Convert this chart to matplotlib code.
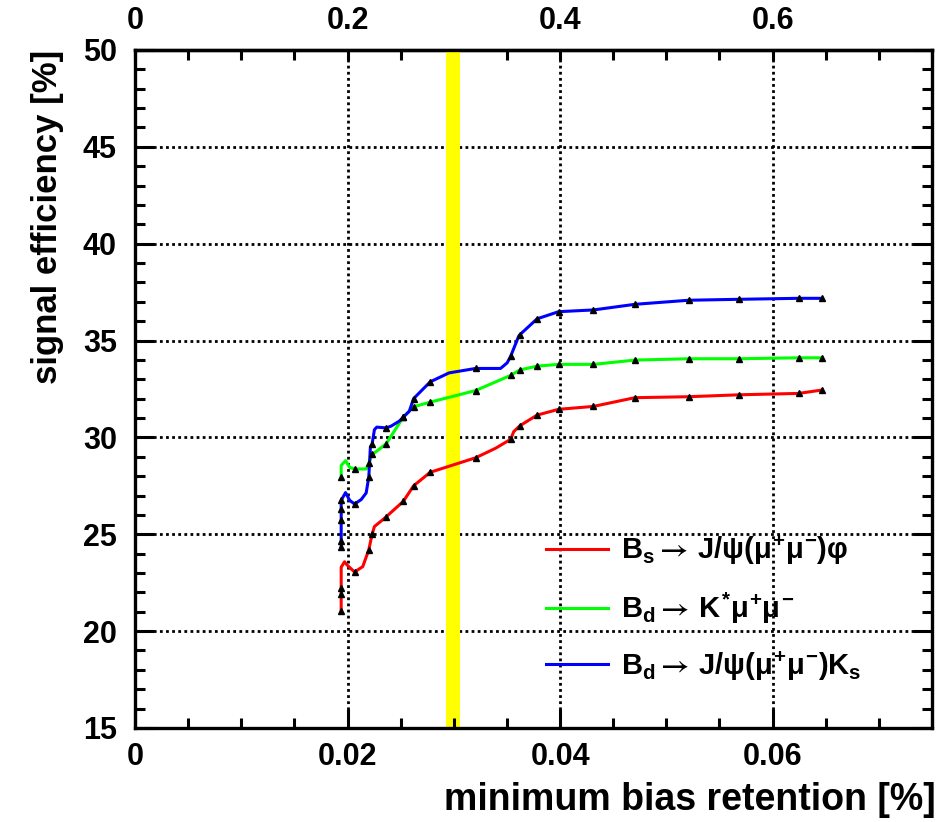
import matplotlib
matplotlib.use("Agg")
import matplotlib.pyplot as plt
from matplotlib.ticker import MultipleLocator, FixedLocator
from matplotlib.lines import Line2D

plt.rcParams['font.family'] = ['Liberation Sans', 'DejaVu Sans']
plt.rcParams['font.weight'] = 'bold'
plt.rcParams['mathtext.fontset'] = 'custom'
plt.rcParams['mathtext.rm'] = 'Liberation Sans:bold'
plt.rcParams['mathtext.it'] = 'Liberation Sans:bold'
plt.rcParams['mathtext.bf'] = 'Liberation Sans:bold'
plt.rcParams['mathtext.sf'] = 'STIXGeneral'

# ---------------- data ----------------
series_labels = [
    r'$B_{s}\mathsf{\rightarrow}\, J/\psi(\mu^{+}\mu^{-})\varphi$',
    r'$B_{d}\mathsf{\rightarrow}\, K^{*}\mu^{+}\mu^{-}$',
    r'$B_{d}\mathsf{\rightarrow}\, J/\psi(\mu^{+}\mu^{-})K_{s}$',
]
series_colors = ['#ff0000', '#00ff00', '#0000ff']

# measured points (markers)
red_x = [0.0194, 0.0194, 0.0194, 0.02066, 0.0220, 0.02231, 0.02363, 0.02525, 0.02621,
         0.02778, 0.03206, 0.03534, 0.03621, 0.03783, 0.03986, 0.04314, 0.04703, 0.0521,
         0.05688, 0.06244, 0.06469]
red_y = [21.05, 21.9, 22.25, 23.05, 24.2, 25.0, 25.9, 26.7, 27.5,
         28.2, 28.95, 29.9, 30.6, 31.15, 31.45, 31.6, 32.05, 32.1,
         32.2, 32.27, 32.45]

green_x = [0.0194, 0.02066, 0.0220, 0.02231, 0.02363, 0.02525, 0.02621, 0.02778, 0.03206,
           0.03534, 0.03621, 0.03783, 0.03986, 0.04314, 0.04703, 0.0521, 0.05688, 0.06244,
           0.06469]
green_y = [27.95, 28.37, 28.68, 29.15, 29.67, 31.05, 31.58, 31.82, 32.42,
           33.2, 33.48, 33.68, 33.77, 33.77, 33.99, 34.06, 34.06, 34.11,
           34.11]

blue_x = [0.0194, 0.0194, 0.0194, 0.0194, 0.0194, 0.02066, 0.0220, 0.02231, 0.02363,
          0.02525, 0.02621, 0.02778, 0.03206, 0.03534, 0.03621, 0.03783, 0.03986, 0.04314,
          0.04703, 0.0521, 0.05688, 0.06244, 0.06469]
blue_y = [24.33, 24.67, 25.75, 26.3, 26.75, 26.56, 27.96, 29.66, 30.49,
          31.05, 32.0, 32.87, 33.56, 34.18, 35.3, 36.12, 36.49, 36.58,
          36.87, 37.08, 37.13, 37.18, 37.18]

# traced smooth curve through the points (as drawn in the picture)
red_curve_x = [0.0194, 0.0194, 0.0194, 0.0194, 0.01972, 0.01994, 0.02066, 0.02143, 0.0220,
               0.02231, 0.02253, 0.02331, 0.02363, 0.02525, 0.02621, 0.02778, 0.03206,
               0.03393, 0.03534, 0.03564, 0.03621, 0.03783, 0.03986, 0.04314, 0.04703,
               0.0521, 0.05688, 0.06244, 0.06469]
red_curve_y = [21.05, 21.9, 22.25, 23.3, 23.58, 23.42, 23.05, 23.33, 24.2,
               25.0, 25.4, 25.75, 25.9, 26.7, 27.5, 28.2, 28.95,
               29.44, 29.9, 30.3, 30.6, 31.15, 31.45, 31.6, 32.05,
               32.1, 32.2, 32.27, 32.45]

green_curve_x = [0.0194, 0.0194, 0.01981, 0.0202, 0.02066, 0.02175, 0.0220, 0.02231,
                 0.02253, 0.02363, 0.02525, 0.02621, 0.02778, 0.03206, 0.03534, 0.03621,
                 0.03783, 0.03986, 0.04314, 0.04703, 0.0521, 0.05688, 0.06244, 0.06469]
green_curve_y = [27.95, 28.55, 28.8, 28.45, 28.37, 28.37, 28.68, 29.15,
                 29.2, 29.67, 31.05, 31.58, 31.82, 32.42, 33.2, 33.48,
                 33.68, 33.77, 33.77, 33.99, 34.06, 34.06, 34.11, 34.11]

blue_curve_x = [0.0194, 0.0194, 0.0194, 0.0194, 0.0194, 0.01981, 0.0202, 0.02066, 0.02128,
                0.02175, 0.0220, 0.02215, 0.02231, 0.02253, 0.02275, 0.02363, 0.02409,
                0.02487, 0.02525, 0.02581, 0.02621, 0.02778, 0.02955, 0.03206, 0.0344,
                0.03502, 0.03534, 0.03611, 0.03621, 0.03783, 0.03986, 0.04314, 0.04703,
                0.0521, 0.05688, 0.06244, 0.06469]
blue_curve_y = [24.33, 24.67, 25.75, 26.3, 26.75, 27.15, 26.75, 26.56, 26.79,
                27.13, 27.96, 29.52, 29.66, 30.4, 30.53, 30.49, 30.58,
                30.84, 31.05, 31.35, 32.0, 32.87, 33.33, 33.56, 33.56,
                33.85, 34.18, 35.23, 35.3, 36.12, 36.49, 36.58, 36.87,
                37.08, 37.13, 37.18, 37.18]

band_range = (0.0293, 0.0306)
x_limits = (0.0, 0.075)
y_limits = (15, 50)
x_major = [0.0, 0.02, 0.04, 0.06]
x_tick_labels = ['0', '0.02', '0.04', '0.06']
y_major = [15, 20, 25, 30, 35, 40, 45, 50]
top_major = [0.0, 0.2, 0.4, 0.6]
top_tick_labels = ['0', '0.2', '0.4', '0.6']
x_label = 'minimum bias retention [%]'
y_label = 'signal efficiency [%]'

# ---------------- figure ----------------
fig = plt.figure(figsize=(9.37, 8.22), dpi=100)
ax = fig.add_axes([0.1441, 0.1144, 0.8506, 0.8248])
ax.set_xlim(*x_limits)
ax.set_ylim(*y_limits)

# dotted grid at interior major ticks
grid_kw = dict(color='black', linewidth=2.0, linestyle=(0, (1, 1.2)), zorder=0.5)
for v in x_major:
    if x_limits[0] < v < x_limits[1]:
        ax.axvline(v, **grid_kw)
for v in y_major:
    if y_limits[0] < v < y_limits[1]:
        ax.axhline(v, **grid_kw)

ax.axvspan(band_range[0], band_range[1], color='#ffff00', zorder=1, linewidth=0)

curves = [(red_curve_x, red_curve_y, red_x, red_y),
          (green_curve_x, green_curve_y, green_x, green_y),
          (blue_curve_x, blue_curve_y, blue_x, blue_y)]
for (cx, cy, mx, my), col in zip(curves, series_colors):
    ax.plot(cx, cy, color=col, linewidth=2.2, zorder=3, solid_joinstyle='round')
    ax.plot(mx, my, linestyle='none', marker='^', markersize=4.5, color='black', zorder=4)

# ticks
ax.xaxis.set_major_locator(FixedLocator(x_major))
ax.set_xticklabels(x_tick_labels)
ax.xaxis.set_minor_locator(MultipleLocator(0.005))
ax.yaxis.set_major_locator(FixedLocator(y_major))
ax.yaxis.set_minor_locator(MultipleLocator(1))
ax.tick_params(axis='both', which='both', direction='in', width=2.2, labelsize=22)
ax.tick_params(axis='x', which='both', top=False, bottom=True, pad=10)
ax.tick_params(axis='y', which='both', left=True, right=True, pad=13)
ax.tick_params(which='major', length=14)
ax.tick_params(which='minor', length=7.5)
for s in ax.spines.values():
    s.set_linewidth(2.4)

sec = ax.secondary_xaxis('top', functions=(lambda x: x * 10, lambda x: x / 10))
sec.xaxis.set_major_locator(FixedLocator(top_major))
sec.set_xticklabels(top_tick_labels)
sec.xaxis.set_minor_locator(MultipleLocator(0.05))
sec.tick_params(axis='x', which='both', direction='in', length=7, width=2.2,
                labelsize=22, pad=10)
sec.spines['top'].set_linewidth(2.4)

ax.set_xlabel(x_label, fontsize=27, fontweight='bold', loc='right')
ax.xaxis.set_label_coords(1.005, -0.08)
ax.set_ylabel(y_label, fontsize=25, fontweight='bold', loc='top')
ax.yaxis.set_label_coords(-0.089, 1.0)

handles = [Line2D([], [], color=c, linewidth=2.2) for c in series_colors]
ax.legend(handles, series_labels, loc='upper left', bbox_to_anchor=(0.516, 0.286),
          frameon=False, fontsize=21, handlelength=2.1, handletextpad=0.45,
          labelspacing=0.8, borderpad=0, borderaxespad=0)

fig.savefig('out.png', dpi=100)
